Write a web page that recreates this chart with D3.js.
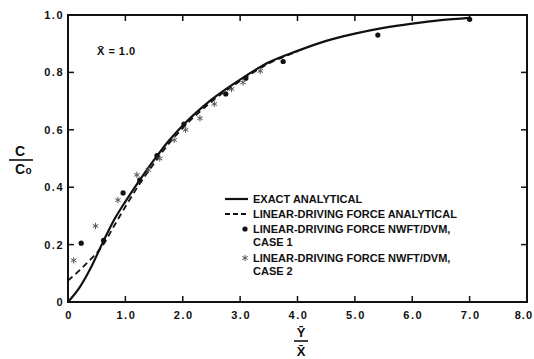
<!DOCTYPE html>
<html><head><meta charset="utf-8">
<script src="https://cdn.jsdelivr.net/npm/d3@7"></script>
<style>
html,body{margin:0;padding:0;background:#fff;}
svg{display:block;}
text{font-family:"Liberation Sans",Arial,sans-serif;font-weight:bold;fill:#111;}
</style></head><body>
<script>
// ---- data ----
const exactX = [0, 0.2, 0.4, 0.6, 0.8, 1.0, 1.25, 1.5, 1.75, 2.0, 2.5, 3.0, 3.5, 4.0, 4.5, 5.0, 5.5, 6.0, 6.5, 7.0];
const exactY = [0, 0.05, 0.12, 0.205, 0.285, 0.35, 0.425, 0.495, 0.56, 0.615, 0.705, 0.775, 0.835, 0.875, 0.91, 0.935, 0.955, 0.97, 0.982, 0.99];
const ldfX = [0, 0.2, 0.4, 0.6, 0.8, 1.0, 1.25, 1.5, 1.75, 2.0, 2.5, 3.0, 3.5, 4.0];
const ldfY = [0.075, 0.11, 0.15, 0.195, 0.264, 0.332, 0.412, 0.483, 0.55, 0.606, 0.698, 0.77, 0.831, 0.873];
const case1X = [0.23, 0.62, 0.96, 1.25, 1.55, 2.02, 2.75, 3.1, 3.75, 5.4, 7.0];
const case1Y = [0.205, 0.215, 0.38, 0.425, 0.51, 0.62, 0.725, 0.78, 0.838, 0.93, 0.985];
const case2X = [0.1, 0.48, 0.87, 1.2, 1.4, 1.6, 1.85, 2.05, 2.3, 2.55, 2.85, 3.05, 3.35];
const case2Y = [0.145, 0.265, 0.355, 0.443, 0.46, 0.5, 0.565, 0.6, 0.64, 0.69, 0.742, 0.765, 0.805];
const xTicks = [0, 1, 2, 3, 4, 5, 6, 7, 8];
const xTickLabels = ["0", "1.0", "2.0", "3.0", "4.0", "5.0", "6.0", "7.0", "8.0"];
const yTicks = [0, 0.2, 0.4, 0.6, 0.8, 1.0];
const yTickLabels = ["0", "0.2", "0.4", "0.6", "0.8", "1.0"];
const legendLabels = ["EXACT ANALYTICAL", "LINEAR-DRIVING FORCE ANALYTICAL", "LINEAR-DRIVING FORCE NWFT/DVM,", "LINEAR-DRIVING FORCE NWFT/DVM,"];
const legendSub = ["", "", "CASE 1", "CASE 2"];

// ---- layout ----
const W = 534, H = 359;
const L = 68, R = 527, T = 15, B = 302;
const x = d3.scaleLinear().domain([0, 8]).range([L, R]);
const y = d3.scaleLinear().domain([0, 1]).range([B, T]);

const svg = d3.select("body").append("svg").attr("width", W).attr("height", H);

// frame
svg.append("rect").attr("x", L).attr("y", T).attr("width", R - L).attr("height", B - T)
  .attr("fill", "none").attr("stroke", "#111").attr("stroke-width", 2);

// ticks (inside)
const tk = 6;
const inner = xTicks.filter(v => v > 0 && v < 8);
svg.selectAll(".tb").data(inner).join("line")
  .attr("x1", d => x(d)).attr("x2", d => x(d)).attr("y1", B).attr("y2", B - tk)
  .attr("stroke", "#111").attr("stroke-width", 1.5);
svg.selectAll(".tt").data(inner).join("line")
  .attr("x1", d => x(d)).attr("x2", d => x(d)).attr("y1", T).attr("y2", T + tk)
  .attr("stroke", "#111").attr("stroke-width", 1.5);
const innerY = yTicks.filter(v => v > 0 && v < 1);
svg.selectAll(".tl").data(innerY).join("line")
  .attr("x1", L).attr("x2", L + tk).attr("y1", d => y(d)).attr("y2", d => y(d))
  .attr("stroke", "#111").attr("stroke-width", 1.5);
svg.selectAll(".tr").data(innerY).join("line")
  .attr("x1", R).attr("x2", R - tk).attr("y1", d => y(d)).attr("y2", d => y(d))
  .attr("stroke", "#111").attr("stroke-width", 1.5);

// tick labels
svg.selectAll(".xl").data(xTicks).join("text")
  .attr("x", (d, i) => i === xTicks.length - 1 ? W - 1 : x(d) + 1)
  .attr("y", B + 17)
  .attr("text-anchor", (d, i) => i === xTicks.length - 1 ? "end" : "middle")
  .attr("font-size", 11).attr("letter-spacing", (d, i) => i === xTicks.length - 1 ? 1 : 1.5)
  .text((d, i) => xTickLabels[i]);
svg.selectAll(".yl").data(yTicks).join("text")
  .attr("x", L - 4).attr("y", d => y(d) + 4).attr("text-anchor", "end")
  .attr("font-size", 11).attr("letter-spacing", 1.5)
  .text((d, i) => yTickLabels[i]);

// axis titles
svg.append("text").attr("x", 20).attr("y", 156).attr("text-anchor", "middle").attr("font-size", 14).text("C");
svg.append("line").attr("x1", 9).attr("x2", 33).attr("y1", 160).attr("y2", 160).attr("stroke", "#111").attr("stroke-width", 1.6);
svg.append("text").attr("x", 20).attr("y", 174).attr("text-anchor", "middle").attr("font-size", 14).text("C");
svg.append("text").attr("x", 28.5).attr("y", 174).attr("text-anchor", "middle").attr("font-size", 10).text("o");

svg.append("text").attr("x", 301).attr("y", 337).attr("text-anchor", "middle").attr("font-size", 13).text("Y\u0304");
svg.append("line").attr("x1", 294).attr("x2", 308).attr("y1", 341).attr("y2", 341).attr("stroke", "#111").attr("stroke-width", 1.6);
svg.append("text").attr("x", 301).attr("y", 356).attr("text-anchor", "middle").attr("font-size", 13).text("X\u0304");

svg.append("text").attr("x", 97).attr("y", 55).attr("font-size", 11).attr("letter-spacing", 0.5).text("X\u0304 = 1.0");

// curves
const line = d3.line().x(d => x(d[0])).y(d => y(d[1])).curve(d3.curveMonotoneX);
svg.append("path").datum(ldfX.map((v, i) => [v, ldfY[i]]))
  .attr("d", line).attr("fill", "none").attr("stroke", "#111").attr("stroke-width", 1.8)
  .attr("stroke-dasharray", "6,4");
svg.append("path").datum(exactX.map((v, i) => [v, exactY[i]]))
  .attr("d", line).attr("fill", "none").attr("stroke", "#111").attr("stroke-width", 2.2);

// case 1 dots
svg.selectAll(".c1").data(case1X.map((v, i) => [v, case1Y[i]])).join("circle")
  .attr("cx", d => x(d[0])).attr("cy", d => y(d[1])).attr("r", 2.6).attr("fill", "#111");

// case 2 stars
const star = d3.symbol().type(d3.symbolAsterisk).size(28);
svg.selectAll(".c2").data(case2X.map((v, i) => [v, case2Y[i]])).join("path")
  .attr("transform", d => `translate(${x(d[0])},${y(d[1])})`)
  .attr("d", star).attr("fill", "none").attr("stroke", "#555").attr("stroke-width", 1);

// legend
const lx = 225, lTx = 253;
const rows = [199, 214, 229, 258];
const lg = svg.append("g");
lg.append("line").attr("x1", lx).attr("x2", lx + 23).attr("y1", rows[0]).attr("y2", rows[0]).attr("stroke", "#111").attr("stroke-width", 2.2);
lg.append("line").attr("x1", lx).attr("x2", lx + 23).attr("y1", rows[1]).attr("y2", rows[1]).attr("stroke", "#111").attr("stroke-width", 1.8).attr("stroke-dasharray", "5,3");
lg.append("circle").attr("cx", 245).attr("cy", rows[2]).attr("r", 2.6).attr("fill", "#111");
lg.append("path").attr("transform", `translate(245,${rows[3]})`).attr("d", star).attr("fill", "none").attr("stroke", "#555").attr("stroke-width", 1);
legendLabels.forEach((t, i) => {
  lg.append("text").attr("x", lTx).attr("y", rows[i] + 4).attr("font-size", 11).text(t);
  if (legendSub[i]) lg.append("text").attr("x", lTx).attr("y", rows[i] + 17).attr("font-size", 11).text(legendSub[i]);
});
</script>
</body></html>
